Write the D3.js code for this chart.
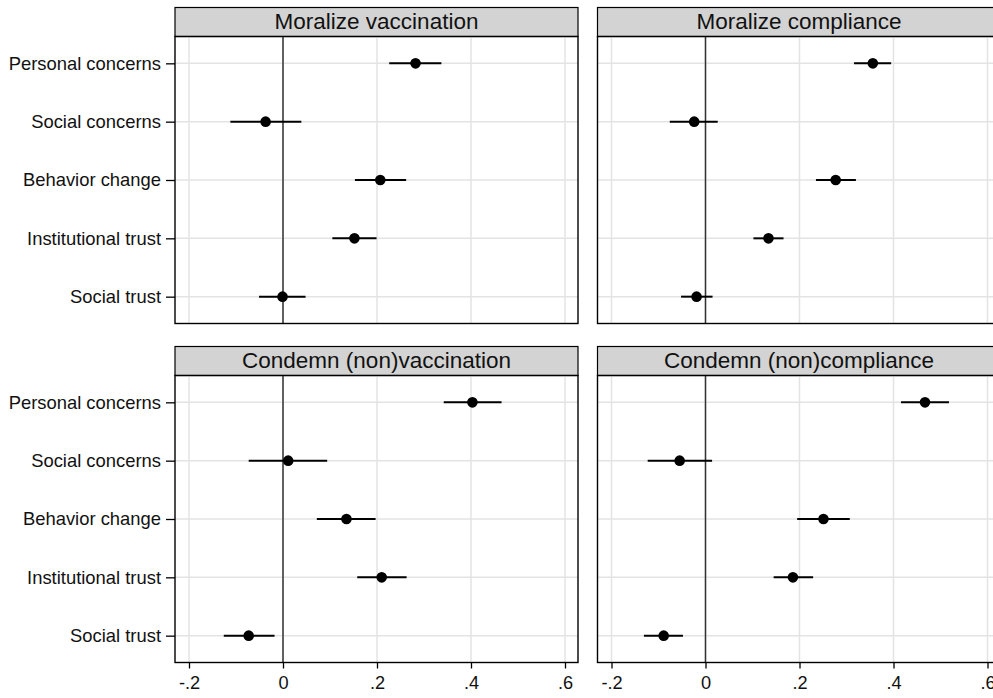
<!DOCTYPE html>
<html>
<head>
<meta charset="utf-8">
<script src="https://cdn.jsdelivr.net/npm/d3@7"></script>
<style>
  html, body { margin: 0; padding: 0; background: #fff; }
  svg { display: block; font-family: Arial, "Liberation Sans", sans-serif; }
</style>
</head>
<body>
<svg id="chart" width="993" height="698"></svg>
<script>
// ---- Data ----
const categories = ["Personal concerns", "Social concerns", "Behavior change", "Institutional trust", "Social trust"];
const panelTitles = ["Moralize vaccination", "Moralize compliance", "Condemn (non)vaccination", "Condemn (non)compliance"];
const xTickValues = [-0.2, 0, 0.2, 0.4, 0.6];
const xTickLabels = ["-.2", "0", ".2", ".4", ".6"];

// estimates per panel (order of categories)
const estMoralizeVacc   = [0.282, -0.037, 0.207, 0.152, -0.001];
const loMoralizeVacc    = [0.226, -0.112, 0.153, 0.105, -0.051];
const hiMoralizeVacc    = [0.337, 0.039, 0.262, 0.199, 0.048];

const estMoralizeComp   = [0.356, -0.024, 0.277, 0.134, -0.019];
const loMoralizeComp    = [0.316, -0.076, 0.235, 0.102, -0.052];
const hiMoralizeComp    = [0.395, 0.026, 0.320, 0.166, 0.015];

const estCondemnVacc    = [0.403, 0.011, 0.135, 0.210, -0.073];
const loCondemnVacc     = [0.342, -0.073, 0.072, 0.158, -0.126];
const hiCondemnVacc     = [0.465, 0.094, 0.197, 0.263, -0.018];

const estCondemnComp    = [0.467, -0.055, 0.251, 0.186, -0.089];
const loCondemnComp     = [0.416, -0.123, 0.195, 0.145, -0.131];
const hiCondemnComp     = [0.518, 0.014, 0.307, 0.229, -0.048];

const panelData = [
  [estMoralizeVacc, loMoralizeVacc, hiMoralizeVacc],
  [estMoralizeComp, loMoralizeComp, hiMoralizeComp],
  [estCondemnVacc, loCondemnVacc, hiCondemnVacc],
  [estCondemnComp, loCondemnComp, hiCondemnComp]
];

// ---- Layout ----
const svg = d3.select("#chart");
const panelW = 403;
const colX = [175, 597.5];
const rowHeaderTop = [7.5, 346.5];
const headerH = 29;
const plotH = 287;

const xScale = d3.scaleLinear().domain([-0.2, 0.6]).range([14, 14 + 376]);
const yScale = d3.scaleLinear().domain([0.54, 5.46]).range([0, plotH]);

panelTitles.forEach((title, i) => {
  const col = i % 2, row = Math.floor(i / 2);
  const x0 = colX[col];
  const top = rowHeaderTop[row];
  const g = svg.append("g").attr("transform", `translate(${x0},${top})`);

  // header
  g.append("rect")
    .attr("x", 0).attr("y", 0).attr("width", panelW).attr("height", headerH)
    .attr("fill", "#d3d3d3").attr("stroke", "#000").attr("stroke-width", 1.2);
  g.append("text")
    .attr("x", panelW / 2).attr("y", headerH / 2 + 1)
    .attr("text-anchor", "middle").attr("dominant-baseline", "middle")
    .attr("font-size", 22.5).attr("fill", "#111")
    .text(title);

  const p = g.append("g").attr("transform", `translate(0,${headerH})`);

  // vertical grid
  p.selectAll(".vg").data(xTickValues).enter().append("line")
    .attr("x1", d => xScale(d)).attr("x2", d => xScale(d))
    .attr("y1", 0).attr("y2", plotH)
    .attr("stroke", "#e3e3e3").attr("stroke-width", 1.5);
  // horizontal grid
  p.selectAll(".hg").data(categories).enter().append("line")
    .attr("x1", 0).attr("x2", panelW)
    .attr("y1", (d, k) => yScale(k + 1)).attr("y2", (d, k) => yScale(k + 1))
    .attr("stroke", "#e3e3e3").attr("stroke-width", 1.5);

  // zero line
  p.append("line")
    .attr("x1", xScale(0)).attr("x2", xScale(0))
    .attr("y1", 0).attr("y2", plotH)
    .attr("stroke", "#333").attr("stroke-width", 1.5);

  const [est, lo, hi] = panelData[i];
  // CI lines
  p.selectAll(".ci").data(categories).enter().append("line")
    .attr("x1", (d, k) => xScale(lo[k])).attr("x2", (d, k) => xScale(hi[k]))
    .attr("y1", (d, k) => yScale(k + 1)).attr("y2", (d, k) => yScale(k + 1))
    .attr("stroke", "#000").attr("stroke-width", 2);
  // points
  p.selectAll(".pt").data(categories).enter().append("circle")
    .attr("cx", (d, k) => xScale(est[k])).attr("cy", (d, k) => yScale(k + 1))
    .attr("r", 5.3).attr("fill", "#000");

  // frame
  p.append("rect")
    .attr("x", 0).attr("y", 0).attr("width", panelW).attr("height", plotH)
    .attr("fill", "none").attr("stroke", "#000").attr("stroke-width", 1.4);

  // y axis (left column only)
  if (col === 0) {
    const ya = d3.axisLeft(yScale).tickValues([1, 2, 3, 4, 5])
      .tickFormat(v => categories[v - 1]).tickSize(9).tickPadding(5);
    const ag = p.append("g").call(ya);
    ag.select(".domain").remove();
    ag.selectAll(".tick line").attr("stroke", "#000").attr("stroke-width", 1.3);
    ag.selectAll(".tick text").attr("font-size", 18.4).attr("fill", "#111")
      .attr("font-family", "Arial, 'Liberation Sans', sans-serif");
  }
  // x axis (bottom row only)
  if (row === 1) {
    const xa = d3.axisBottom(xScale).tickValues(xTickValues)
      .tickFormat((v, k) => xTickLabels[k]).tickSize(6).tickPadding(8);
    const ag = p.append("g").attr("transform", `translate(0,${plotH})`).call(xa);
    ag.select(".domain").remove();
    ag.selectAll(".tick line").attr("stroke", "#000").attr("stroke-width", 1.3);
    ag.selectAll(".tick text").attr("font-size", 18.2).attr("fill", "#111")
      .attr("font-family", "Arial, 'Liberation Sans', sans-serif");
  }
});
</script>
</body>
</html>
